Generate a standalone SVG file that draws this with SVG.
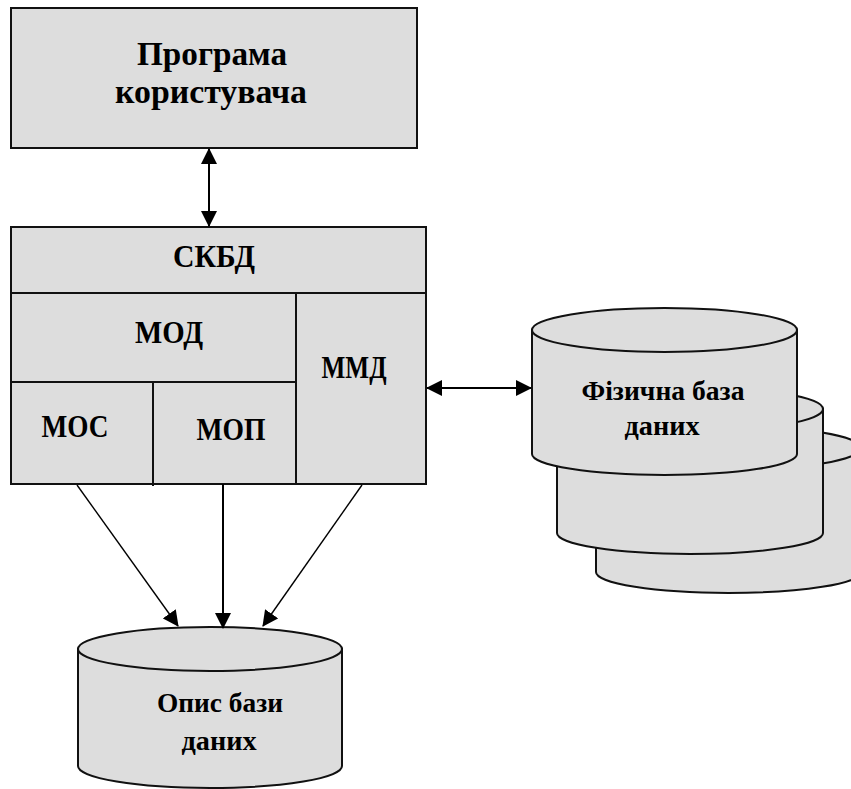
<svg xmlns="http://www.w3.org/2000/svg" width="851" height="789" viewBox="0 0 851 789">
  <defs>
    <style>
      .box { fill: #dddddd; stroke: #111111; stroke-width: 2; }
      .div { fill: none; stroke: #111111; stroke-width: 2; }
      .cyl { fill: #dddddd; stroke: #111111; stroke-width: 2; }
      .lbl { font-family: "Liberation Serif", "Times New Roman", serif; font-weight: bold; fill: #000000; text-anchor: middle; }
      .big { font-size: 34px; }
      .mid { font-size: 31px; }
      .sm { font-size: 28px; }
      .link { fill: none; stroke: #000000; stroke-width: 2; }
      .thin { fill: none; stroke: #000000; stroke-width: 1.4; }
    </style>
    <marker id="head" viewBox="0 0 16 16" refX="15" refY="8" markerWidth="16" markerHeight="16" markerUnits="userSpaceOnUse" orient="auto-start-reverse">
      <path d="M0,0 L16,8 L0,16 Z" fill="#000000"/>
    </marker>
  </defs>

  <rect width="851" height="789" fill="#ffffff"/>

  <!-- user program -->
  <g id="user-program">
    <rect class="box" x="11" y="8" width="406" height="140"/>
    <text class="lbl big" x="212" y="65" textLength="150" lengthAdjust="spacingAndGlyphs">Програма</text>
    <text class="lbl big" x="211" y="103" textLength="192" lengthAdjust="spacingAndGlyphs">користувача</text>
  </g>

  <!-- DBMS with its modules -->
  <g id="dbms">
    <rect class="box" x="11" y="227" width="415" height="257"/>
    <text class="lbl mid" x="214" y="267" textLength="82" lengthAdjust="spacingAndGlyphs">СКБД</text>
    <line class="div" x1="11" y1="293" x2="426" y2="293"/>
    <line class="div" x1="296" y1="293" x2="296" y2="484"/>
    <line class="div" x1="11" y1="382" x2="296" y2="382"/>
    <line class="div" x1="153" y1="382" x2="153" y2="486"/>
  </g>
  <g id="mod">
    <text class="lbl mid" x="169" y="343" textLength="68" lengthAdjust="spacingAndGlyphs">МОД</text>
  </g>
  <g id="mmd">
    <text class="lbl mid" x="354" y="378" textLength="65" lengthAdjust="spacingAndGlyphs">ММД</text>
  </g>
  <g id="mos">
    <text class="lbl mid" x="75" y="437" textLength="67" lengthAdjust="spacingAndGlyphs">МОС</text>
  </g>
  <g id="mop">
    <text class="lbl mid" x="231" y="440" textLength="69" lengthAdjust="spacingAndGlyphs">МОП</text>
  </g>

  <!-- stacked physical database cylinders, back to front -->
  <g id="physical-db-3">
    <path class="cyl" d="M596,448 L596,572 A132.5,21 0 0 0 861,572 L861,448 Z"/>
    <ellipse class="cyl" cx="728.5" cy="448" rx="132.5" ry="22"/>
  </g>
  <g id="physical-db-2">
    <path class="cyl" d="M557,409 L557,533 A133,21 0 0 0 823,533 L823,409 Z"/>
    <ellipse class="cyl" cx="690" cy="409" rx="133" ry="22"/>
  </g>
  <g id="physical-db">
    <path class="cyl" d="M532,330 L532,454 A132.5,21 0 0 0 797,454 L797,330 Z"/>
    <ellipse class="cyl" cx="664.5" cy="330" rx="132.5" ry="22"/>
    <text class="lbl sm" x="663" y="400" textLength="163" lengthAdjust="spacingAndGlyphs">Фізична база</text>
    <text class="lbl sm" x="662" y="435" textLength="75" lengthAdjust="spacingAndGlyphs">даних</text>
  </g>

  <!-- database description -->
  <g id="db-description">
    <path class="cyl" d="M78,649 L78,766 A132,22 0 0 0 342,766 L342,649 Z"/>
    <ellipse class="cyl" cx="210" cy="649" rx="132" ry="22"/>
    <text class="lbl sm" x="220" y="712" textLength="126" lengthAdjust="spacingAndGlyphs">Опис бази</text>
    <text class="lbl sm" x="219" y="750" textLength="75" lengthAdjust="spacingAndGlyphs">даних</text>
  </g>

  <!-- connectors -->
  <g id="connectors">
    <line class="link" x1="209" y1="149" x2="209" y2="226" marker-start="url(#head)" marker-end="url(#head)"/>
    <line class="link" x1="427" y1="388" x2="531" y2="388" marker-start="url(#head)" marker-end="url(#head)"/>
    <line class="thin" x1="77" y1="485" x2="178" y2="626" marker-end="url(#head)"/>
    <line class="link" x1="223" y1="484" x2="223" y2="628" marker-end="url(#head)"/>
    <line class="thin" x1="362" y1="485" x2="263" y2="626" marker-end="url(#head)"/>
  </g>
</svg>
